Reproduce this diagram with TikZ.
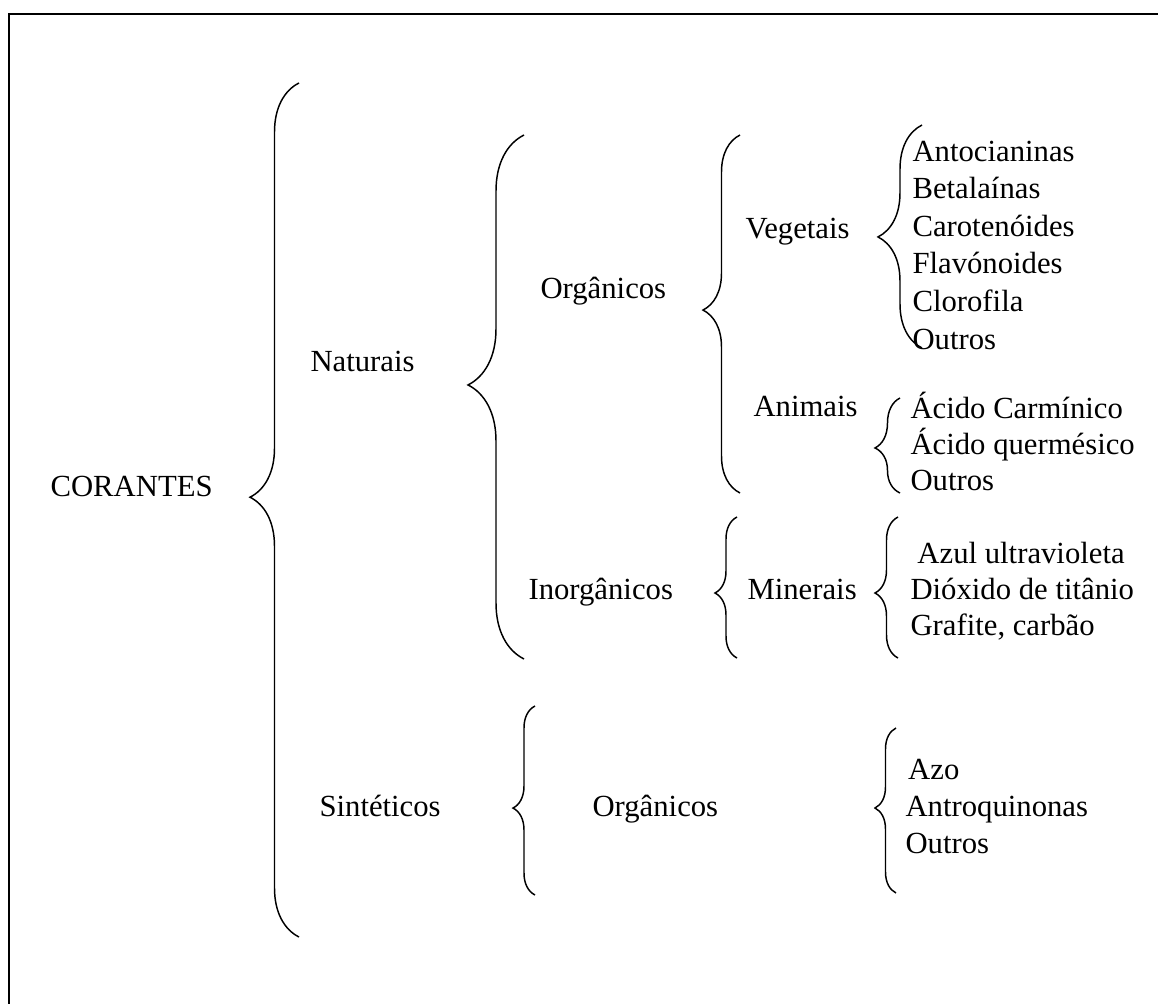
\documentclass[tikz,border=0pt]{standalone}
\usepackage{fontspec}
\setmainfont{Liberation Serif}
\usetikzlibrary{decorations.pathreplacing}

\tikzset{
    texto/.style={anchor=mid west, inner sep=0pt, font=\fontsize{11.5}{14}\selectfont},
    chave/.style 2 args={decorate, line width=0.55pt,
        decoration={brace, amplitude=#1*0.3745pt, aspect=#2}}
}

\begin{document}
\begin{tikzpicture}[x=0.3745pt, y=-0.3745pt]
    \useasboundingbox (0,0) rectangle (1158,1004);
    % moldura
    \draw[line width=0.7pt] (9,1004) -- (9,14) -- (1158,14);

    % primeiro nivel
    \node[texto] (corantes) at (50,490) {CORANTES};
    \node[texto] (naturais) at (310,365) {Naturais};
    \node[texto] (sinteticos) at (319,810) {Sintéticos};

    % segundo nivel
    \node[texto] (org-nat) at (540,292) {Orgânicos};
    \node[texto] (inorg) at (528,593) {Inorgânicos};
    \node[texto] (org-sin) at (592,810) {Orgânicos};

    % terceiro nivel
    \node[texto] (vegetais) at (745,232) {Vegetais};
    \node[texto] (animais) at (753,410) {Animais};
    \node[texto] (minerais) at (747,593) {Minerais};

    % listas
    \foreach \t [count=\i] in {Antocianinas, Betalaínas, Carotenóides, Flavónoides, Clorofila, Outros}
        \node[texto] (veg-\i) at (912,{155+37.6*(\i-1)}) {\t};
    \foreach \t [count=\i] in {Ácido Carmínico, Ácido quermésico, Outros}
        \node[texto] (ani-\i) at (910,{412+36*(\i-1)}) {\t};
    \foreach \t [count=\i] in {\hspace*{2.6pt}Azul ultravioleta, Dióxido de titânio, {Grafite, carbão}}
        \node[texto] (min-\i) at (910,{557+36*(\i-1)}) {\t};
    \foreach \t [count=\i] in {\hspace*{1pt}Azo, Antroquinonas, Outros}
        \node[texto] (sin-\i) at (905,{773+37*(\i-1)}) {\t};

    % chaves
    \coordinate (cor-a) at (299,83);   \coordinate (cor-b) at (299,937);
    \coordinate (nat-a) at (524,135);  \coordinate (nat-b) at (524,659);
    \coordinate (sin-a) at (535,706);  \coordinate (sin-b) at (535,895);
    \coordinate (on-a) at (740,135);   \coordinate (on-b) at (740,493);
    \coordinate (in-a) at (737,517);   \coordinate (in-b) at (737,658);
    \coordinate (veg-a) at (922,125);  \coordinate (veg-b) at (922,348);
    \coordinate (ani-a) at (900,398);  \coordinate (ani-b) at (900,493);
    \coordinate (min-a) at (898,517);  \coordinate (min-b) at (898,658);
    \coordinate (os-a) at (896,728);   \coordinate (os-b) at (896,893);

    \draw[chave={49}{0.515}] (cor-b) -- (cor-a);
    \draw[chave={56}{0.523}] (nat-b) -- (nat-a);
    \draw[chave={22}{0.46}] (sin-b) -- (sin-a);
    \draw[chave={37}{0.511}] (on-b) -- (on-a);
    \draw[chave={22}{0.461}] (in-b) -- (in-a);
    \draw[chave={44}{0.498}] (veg-b) -- (veg-a);
    \draw[chave={25}{0.474}] (ani-b) -- (ani-a);
    \draw[chave={23}{0.461}] (min-b) -- (min-a);
    \draw[chave={21}{0.515}] (os-b) -- (os-a);
\end{tikzpicture}
\end{document}
